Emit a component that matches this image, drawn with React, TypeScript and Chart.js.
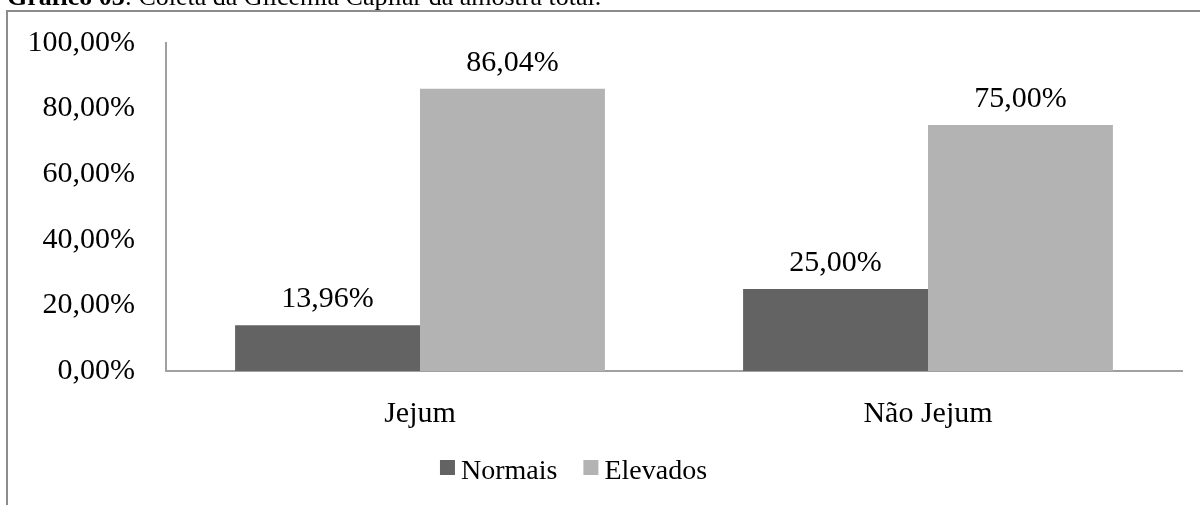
import React, { useEffect, useRef } from "react";
import { Chart, registerables } from "chart.js";

Chart.register(...registerables);

const categories = ["Jejum", "Não Jejum"];
const seriesNames = ["Normais", "Elevados"];
const normais = [13.96, 25.0];
const elevados = [86.04, 75.0];
const yTicks = [0, 20, 40, 60, 80, 100];
const titleBold = "Gráfico 03";
const titleRest = ": Coleta da Glicemia Capilar da amostra total.";

const FONT = "'Liberation Serif', 'Times New Roman', serif";
const DARK = "#636363";
const LIGHT = "#b3b3b3";
const AXIS = "#a0a0a0";

const fmt = (v: number) => v.toFixed(2).replace(".", ",") + "%";

const framePlugin = {
  id: "frame",
  beforeDraw(chart: any) {
    const ctx = chart.ctx;
    ctx.save();
    ctx.fillStyle = "#ffffff";
    ctx.fillRect(0, 0, chart.width, chart.height);
    ctx.strokeStyle = "#8c8c8c";
    ctx.lineWidth = 2;
    ctx.beginPath();
    ctx.moveTo(7, chart.height);
    ctx.lineTo(7, 11);
    ctx.lineTo(chart.width, 11);
    ctx.stroke();
    ctx.fillStyle = "#000";
    ctx.textBaseline = "alphabetic";
    ctx.textAlign = "left";
    ctx.font = `bold 26px ${FONT}`;
    ctx.fillText(titleBold, 7, 5);
    const w = ctx.measureText(titleBold).width;
    ctx.font = `26px ${FONT}`;
    ctx.fillText(titleRest, 7 + w, 5);
    ctx.restore();
  },
};

const labelsPlugin = {
  id: "barLabels",
  afterDatasetsDraw(chart: any) {
    const ctx = chart.ctx;
    ctx.save();
    ctx.font = `30px ${FONT}`;
    ctx.fillStyle = "#000";
    ctx.textAlign = "center";
    ctx.textBaseline = "alphabetic";
    chart.data.datasets.forEach((ds: any, i: number) => {
      const meta = chart.getDatasetMeta(i);
      meta.data.forEach((bar: any, j: number) => {
        ctx.fillText(fmt(ds.data[j]), bar.x, bar.y - 18);
      });
    });
    ctx.restore();
  },
};

const legendPlugin = {
  id: "customLegend",
  afterDraw(chart: any) {
    const ctx = chart.ctx;
    ctx.save();
    ctx.font = `28px ${FONT}`;
    ctx.textBaseline = "alphabetic";
    ctx.textAlign = "left";
    const box = 15;
    const gapText = 6;
    const gapItem = 26;
    const items = chart.data.datasets.map((ds: any) => ({
      label: ds.label,
      color: ds.backgroundColor,
      w: ctx.measureText(ds.label).width,
    }));
    const total = items.reduce((s: number, it: any) => s + box + gapText + it.w, 0) + gapItem * (items.length - 1);
    let x = 573.5 - total / 2;
    const baseline = 479;
    items.forEach((it: any) => {
      ctx.fillStyle = it.color;
      ctx.fillRect(x, baseline - 19, box, box);
      ctx.fillStyle = "#000";
      ctx.fillText(it.label, x + box + gapText, baseline);
      x += box + gapText + it.w + gapItem;
    });
    ctx.restore();
  },
};

export default function App() {
  const ref = useRef<HTMLCanvasElement>(null);
  useEffect(() => {
    if (!ref.current) return;
    const chart = new Chart(ref.current, {
      type: "bar",
      data: {
        labels: categories,
        datasets: [
          { label: seriesNames[0], data: normais, backgroundColor: DARK, categoryPercentage: 0.728, barPercentage: 1 },
          { label: seriesNames[1], data: elevados, backgroundColor: LIGHT, categoryPercentage: 0.728, barPercentage: 1 },
        ],
      },
      options: {
        animation: false,
        responsive: false,
        layout: { padding: { left: 0, top: 43, right: 18, bottom: 0 } },
        plugins: {
          legend: { display: false },
          tooltip: { enabled: false },
          title: { display: false },
        },
        scales: {
          x: {
            grid: { display: false, drawTicks: false },
            border: { display: true, color: AXIS, width: 2 },
            ticks: { color: "#000", font: { family: FONT, size: 30 }, padding: 25 },
            afterFit: (s: any) => { s.height = 134; s.paddingLeft = 0; s.paddingRight = 0; },
          },
          y: {
            min: 0,
            max: 100,
            afterBuildTicks: (s: any) => { s.ticks = yTicks.map((v) => ({ value: v })); },
            grid: { display: false, drawTicks: false },
            border: { display: true, color: AXIS, width: 2 },
            ticks: { color: "#000", font: { family: FONT, size: 30 }, padding: 31, callback: (v: any) => fmt(Number(v)) },
            afterFit: (s: any) => { s.width = 166; s.paddingTop = 0; s.paddingBottom = 0; },
          },
        },
      },
      plugins: [framePlugin, labelsPlugin, legendPlugin],
    });
    return () => chart.destroy();
  }, []);
  return (
    <div style={{ position: "fixed", left: 0, top: 0, width: 1200, height: 505, background: "#fff" }}>
      <canvas ref={ref} width={1200} height={505} style={{ width: 1200, height: 505, display: "block" }} />
    </div>
  );
}
